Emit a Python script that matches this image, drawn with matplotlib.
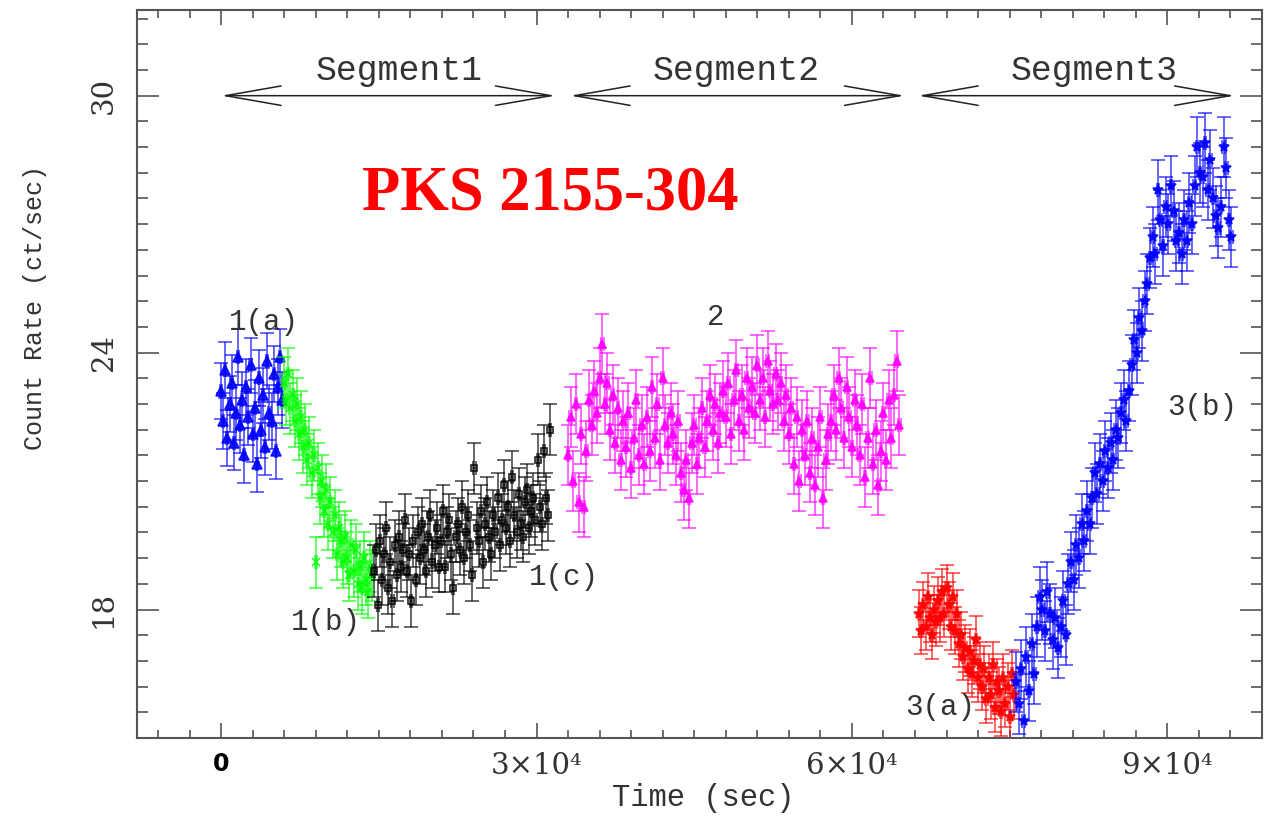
import numpy as np
import matplotlib
matplotlib.use('Agg')
import matplotlib.pyplot as plt
from matplotlib.ticker import MultipleLocator, FixedLocator

# ---- light curve data (count rate in ct/sec) ----
# each segment: start time (s), bin width (s)
start_1a, bin_1a = 0, 200
rate_1a = [23.1, 22.4, 23.6, 22.0, 22.8, 23.3, 21.9, 22.6, 23.9, 22.3,
           22.9, 21.6, 23.2, 22.5, 23.7, 22.1, 22.7, 21.4, 23.4, 22.2,
           23.0, 21.8, 23.8, 22.6, 22.4, 23.5, 21.7, 23.2, 23.9, 22.9]
err_1a = 0.65

start_1b, bin_1b = 6000, 200
rate_1b = [23.3, 22.9, 23.5, 22.7, 23.0, 22.4, 22.8, 22.1, 22.5, 21.8,
           22.2, 21.5, 21.9, 21.2, 21.6, 19.1, 21.3, 20.6, 21.0, 20.3,
           20.8, 20.0, 20.5, 19.8, 20.2, 19.3, 19.9, 19.6, 19.1, 19.7,
           19.2, 18.8, 19.5, 18.9, 19.4, 18.6, 19.0, 18.5, 19.2, 18.7,
           18.4, 19.0, 18.8]
err_1b = 0.6

start_1c, bin_1c = 14500, 200
rate_1c = [18.9, 19.4, 18.1, 19.6, 18.7, 19.3, 19.9, 18.5, 19.1, 18.2,
           19.5, 18.8, 19.7, 19.0, 19.4, 20.1, 18.9, 19.3, 18.2, 19.6,
           18.7, 19.8, 19.2, 20.0, 19.4, 18.9, 19.7, 20.2, 19.1, 19.5,
           19.9, 19.0, 19.6, 20.3, 19.0, 19.8, 20.1, 19.3, 18.5, 19.7,
           20.0, 19.4, 20.4, 19.2, 19.8, 20.2, 19.5, 18.8, 21.3, 19.9,
           19.6, 20.3, 19.1, 20.0, 20.5, 19.7, 19.3, 20.2, 19.8, 20.6,
           19.5, 20.1, 20.9, 19.9, 20.4, 19.6, 21.1, 20.2, 19.8, 20.7,
           20.0, 19.7, 20.5, 20.8, 19.9, 20.3, 20.6, 20.1, 21.5, 20.4,
           20.0, 21.7, 20.6, 20.2, 22.2]
err_1c = 0.6

start_2, bin_2 = 33000, 250
rate_2 = [21.6, 22.5, 21.0, 22.8, 20.5, 22.1, 20.4, 21.7, 22.9, 22.3,
          23.1, 22.6, 23.4, 24.2, 22.8, 23.3, 22.2, 23.0, 21.9, 22.7,
          21.5, 22.4, 21.8, 22.6, 21.3, 22.0, 22.9, 21.6, 22.3, 21.4,
          22.5, 21.7, 23.2, 22.0, 22.8, 21.5, 23.4, 22.3, 21.9, 22.6,
          22.1, 21.6, 22.4, 21.2, 20.8, 21.5, 20.6, 21.9, 22.3, 21.4,
          22.0, 22.7, 21.8, 22.4, 23.0, 22.2, 22.8, 21.9, 22.6, 23.1,
          22.5, 23.3, 22.1, 22.9, 23.6, 22.4, 23.0, 22.2, 23.4, 22.7,
          23.2, 22.6, 23.7, 22.9, 23.4, 22.5, 23.8, 23.1, 22.8, 23.5,
          22.9, 23.3, 22.4, 23.0, 22.1, 22.7, 21.4, 22.5, 21.0, 22.2,
          21.6, 22.4, 21.2, 22.0, 20.9, 21.8, 22.5, 20.6, 21.5, 22.1,
          22.4, 23.0, 22.2, 23.4, 22.7, 22.0, 23.2, 22.5, 21.8, 22.9,
          22.3, 21.6, 22.8, 21.1, 22.0, 23.4, 21.4, 22.2, 20.9, 21.7,
          22.6, 21.5, 22.9, 22.0, 23.0, 23.8, 22.3]
err_2 = 0.7

start_3a, bin_3a = 66400, 200
rate_3a = [17.9, 17.5, 18.1, 17.6, 18.3, 17.8, 17.4, 18.0, 17.7, 18.2,
           17.8, 18.4, 17.9, 18.5, 18.1, 17.6, 18.3, 17.5, 17.9, 17.2,
           17.4, 16.9, 17.1, 16.6, 17.0, 16.5, 16.8, 17.3, 16.4, 16.7,
           16.2, 16.6, 15.9, 16.4, 16.0, 16.7, 15.7, 16.3, 16.1, 15.6,
           16.4, 15.8, 16.2, 15.5, 16.5, 16.0]
err_3a = 0.55

start_3b, bin_3b = 75600, 250
rate_3b = [16.3, 15.8, 16.6, 15.4, 16.9, 16.1, 17.2, 16.5, 17.6, 18.3,
           18.0, 17.5, 18.4, 17.9, 17.3, 17.8, 17.1, 17.6, 18.2, 17.4,
           18.6, 19.1, 18.7, 19.5, 19.2, 20.0, 19.6, 20.3, 20.0, 20.6,
           21.2, 20.7, 21.4, 21.0, 21.7, 21.3, 21.9, 21.5, 22.2, 22.0,
           22.6, 22.9, 22.4, 23.1, 23.7, 24.3, 24.0, 24.8, 24.5, 25.2,
           25.6, 26.2, 26.7, 26.3, 27.8, 27.1, 26.5, 27.4, 27.0, 27.9,
           27.3, 26.6, 26.8, 26.3, 27.1, 26.6, 27.5, 27.0, 27.9, 28.8,
           28.2, 28.1, 28.9, 27.8, 28.5, 27.6, 27.2, 26.9, 27.4, 28.8,
           28.3, 27.1, 26.7]
err_3b = 0.7

segment_names = ['Segment1', 'Segment2', 'Segment3']
segment_spans = [(0, 31800), (33200, 65000), (66300, 96400)]
segment_label_x = [16900, 49000, 83000]

sub_labels = ['1(a)', '1(b)', '1(c)', '2', '3(a)', '3(b)']
sub_label_pos = [(700, 24.72), (6600, 17.72), (29300, 18.75),
                 (46200, 24.82), (65100, 15.73), (90000, 22.72)]

xtick_vals = [0, 30000, 60000, 90000]
xtick_labels = ['0', '3×10⁴', '6×10⁴', '9×10⁴']
ytick_vals = [18, 24, 30]

# ---- figure ----
fig = plt.figure(figsize=(12.66, 8.16), dpi=100)
ax = fig.add_axes([0.1082, 0.0956, 0.8886, 0.8921])

mono = ['Liberation Mono', 'DejaVu Serif']
grey = '#333333'

series = [
    (start_1a, bin_1a, rate_1a, err_1a, '#0000ff', '^', 7, True),
    (start_1b, bin_1b, rate_1b, err_1b, '#00ff00', 'x', 6, True),
    (start_1c, bin_1c, rate_1c, err_1c, '#000000', 's', 4, False),
    (start_2, bin_2, rate_2, err_2, '#ff00ff', '^', 5.5, True),
    (start_3a, bin_3a, rate_3a, err_3a, '#ff0000', '*', 7, True),
    (start_3b, bin_3b, rate_3b, err_3b, '#0000ff', '*', 7, True),
]
for t0, dt, rate, err, col, mk, ms, filled in series:
    t = t0 + dt * np.arange(len(rate))
    ax.errorbar(t, rate, yerr=err, xerr=dt / 2, fmt='none', ecolor=col,
                elinewidth=1.4, capsize=5, capthick=1.4, alpha=0.6)
    ax.plot(t, rate, linestyle='none', marker=mk, ms=ms, color=col,
            mfc=col if filled else 'none', mew=1.2, alpha=0.85)

# segment arrows
for name, (a, b), lx in zip(segment_names, segment_spans, segment_label_x):
    ax.annotate('', xy=(a, 30), xytext=(b, 30),
                arrowprops=dict(arrowstyle='<->, head_length=2.0, head_width=0.35',
                                mutation_scale=20, lw=1.1, color='#222222',
                                shrinkA=0, shrinkB=0))
    ax.text(lx, 30.2, name, ha='center', va='bottom', fontsize=25,
            family=mono, color=grey)

for lab, (lx, ly) in zip(sub_labels, sub_label_pos):
    ax.text(lx, ly, lab, ha='left', va='center', fontsize=21,
            family=mono, color=grey)

ax.text(13400, 27.34, 'PKS 2155-304', ha='left', va='baseline', fontsize=45,
        family='Liberation Serif', fontweight='bold', color='#ff0000')

ax.set_xlim(-8000, 99000)
ax.set_ylim(15, 32)

ax.xaxis.set_major_locator(FixedLocator(xtick_vals))
ax.xaxis.set_minor_locator(MultipleLocator(3000))
ax.yaxis.set_major_locator(FixedLocator(ytick_vals))
ax.yaxis.set_minor_locator(MultipleLocator(0.6))
ax.set_xticklabels(xtick_labels)
ax.set_yticklabels([str(v) for v in ytick_vals])

ax.tick_params(axis='both', which='both', direction='in', top=True, right=True,
               colors='#555555', width=1.2)
ax.tick_params(axis='x', which='major', length=11, pad=10, labelsize=21,
               labelcolor=grey)
ax.tick_params(axis='x', which='minor', length=6)
ax.tick_params(axis='y', which='major', length=16, pad=14, labelsize=21,
               labelcolor=grey)
ax.tick_params(axis='y', which='minor', length=8)
for lab in ax.get_xticklabels():
    lab.set_family(['DejaVu Serif'])
ax.get_xticklabels()[0].set_family('DejaVu Sans')
ax.get_xticklabels()[0].set_fontweight('bold')
ax.get_xticklabels()[0].set_color('black')
ax.get_xticklabels()[0].set_fontsize(17)
for lab in ax.get_yticklabels():
    lab.set_family(['DejaVu Serif'])
    lab.set_rotation(90)
    lab.set_va('center')

for sp in ax.spines.values():
    sp.set_color('#555555')
    sp.set_linewidth(1.5)

fig.text(0.028, 1 - 307 / 816, 'Count Rate (ct/sec)', rotation=90,
         ha='center', va='center', fontsize=18, family=mono, color=grey)
fig.text(703 / 1266, 1 - 798 / 816, 'Time (sec)', ha='center', va='center',
         fontsize=22, family=mono, color=grey)

fig.savefig('out.png', dpi=100)
